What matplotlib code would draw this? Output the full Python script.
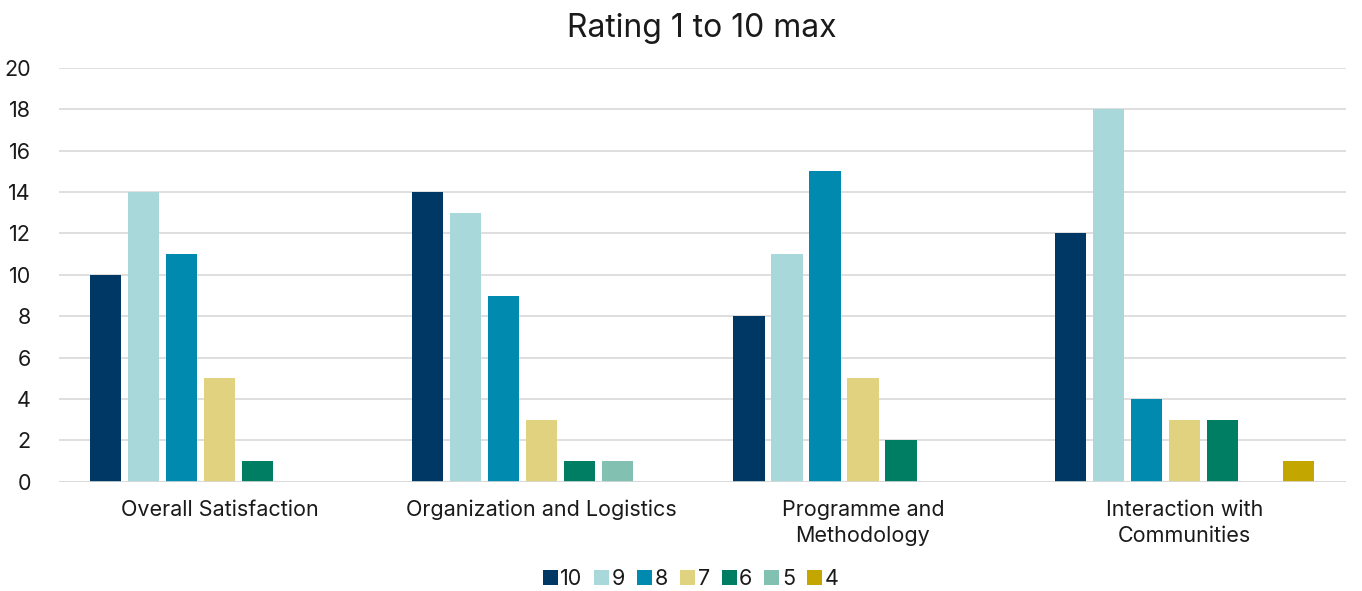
import matplotlib
matplotlib.use('Agg')
import matplotlib.pyplot as plt
import numpy as np

categories = ['Overall Satisfaction', 'Organization and Logistics',
              'Programme and\nMethodology', 'Interaction with\nCommunities']
ratings = ['10', '9', '8', '7', '6', '5', '4']
r10 = [10, 14, 8, 12]
r9 = [14, 13, 11, 18]
r8 = [11, 9, 15, 4]
r7 = [5, 3, 5, 3]
r6 = [1, 1, 2, 3]
r5 = [0, 1, 0, 0]
r4 = [0, 0, 0, 1]
colors = ['#003865', '#a8d8da', '#008ab0', '#e1d280', '#007e64', '#82c0b1', '#c4a600']

series = [r10, r9, r8, r7, r6, r5, r4]

plt.rcParams['font.family'] = ['Inter', 'DejaVu Sans']

fig = plt.figure(figsize=(13.62, 5.91), dpi=100)
ax = fig.add_axes([0.043, 0.185, 0.945, 0.7])

x = np.arange(len(categories))
pitch = 0.118
width = 0.097
for i, (vals, c, lab) in enumerate(zip(series, colors, ratings)):
    ax.bar(x + (i - 3) * pitch, vals, width, color=c, label=lab, zorder=2)

ax.axhline(0, color='#d9d9d9', lw=1.2, zorder=3)
ax.set_ylim(0, 20)
ax.set_yticks(range(0, 21, 2))
ax.set_xlim(-0.5, 3.5)
ax.set_xticks(x)
ax.set_xticklabels(categories, fontsize=15.5, color='#1a1a1a', linespacing=1.4)
ax.tick_params(axis='y', labelsize=15.5, colors='#1a1a1a', length=0, pad=20)
ax.tick_params(axis='x', length=0, pad=13)
ax.grid(axis='y', color='#d9d9d9', lw=1.2, zorder=0)
for s in ax.spines.values():
    s.set_visible(False)

ax.set_title('Rating 1 to 10 max', fontsize=23, color='#1a1a1a', pad=22)

fig.legend(loc='lower center', bbox_to_anchor=(0.507, -0.03), ncol=7, frameon=False,
           fontsize=15.5, handlelength=0.7, handleheight=0.7, handletextpad=0.12,
           columnspacing=0.55, labelcolor='#1a1a1a')

fig.savefig('out.png', dpi=100)
